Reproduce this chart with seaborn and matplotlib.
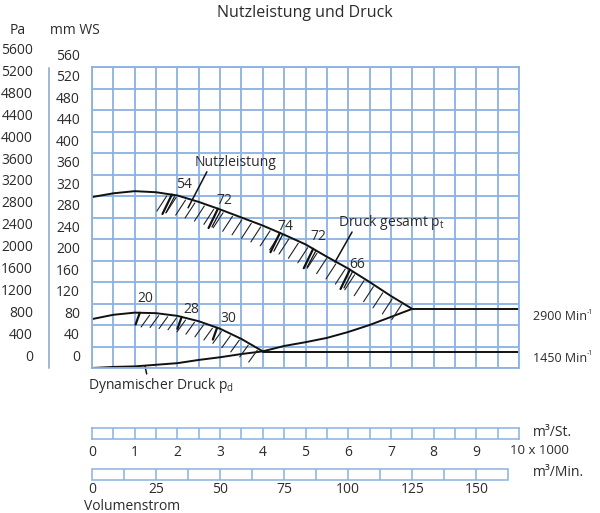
import numpy as np
import pandas as pd
import matplotlib
matplotlib.use("Agg")
import matplotlib.pyplot as plt
import seaborn as sns

# flow in 1000 m3/h, pressure in mm WS
flow_2900 = [0.0, 0.5, 1.0, 1.5, 2.0, 2.5, 3.0, 3.5, 4.0, 4.5, 5.0, 5.5, 6.0, 6.5, 7.0, 7.5]
pt_2900 = [298, 305, 309, 307, 301, 289, 275, 260, 245, 228, 210, 187, 165, 140, 114, 90]

flow_1450 = [0.0, 0.5, 1.0, 1.5, 2.0, 2.5, 3.0, 3.5, 4.0]
pt_1450 = [71, 79, 83, 82, 77, 67, 53, 34, 11]

flow_dyn = [0.0, 0.5, 1.0, 1.5, 2.0, 2.5, 3.0, 3.5, 4.0, 4.5, 5.0, 5.5, 6.0, 6.5, 7.0, 7.5]
pd_dyn = [-20, -18, -17, -14, -11, -5, 0, 6, 11, 21, 28, 36, 47, 60, 75, 90]

# speed lines (flat part right of the operating point)
speed_labels = ["2900 Min", "1450 Min"]
speed_start = [7.5, 4.0]
speed_level = [90, 10]
speed_label_y = [75, -2]

# efficiency marks: label, flow of mark, label position
eff_2900 = [54, 72, 74, 72, 66]
eff_2900_x = [1.87, 2.95, 4.4, 5.18, 6.04]
eff_2900_lx = [2.15, 3.11, 4.52, 5.29, 6.21]
eff_2900_ly = [322, 291, 244, 224, 172]

eff_1450 = [20, 28, 30]
eff_1450_x = [1.12, 2.1, 2.93]
eff_1450_lx = [1.26, 2.32, 3.19]
eff_1450_ly = [110, 88, 73]

mm_ticks = list(range(0, 561, 40))
pa_ticks = list(range(0, 5601, 400))
st_ticks = list(range(0, 10))
min_ticks = [0, 25, 50, 75, 100, 125, 150]

GRID = "#8ab2e2"
TXT = "#2b2b2b"
FONT = "Open Sans"
FS = 10

sns.set_theme(style="white")
plt.rcParams["font.family"] = [FONT, "DejaVu Sans"]
plt.rcParams["mathtext.fontset"] = "custom"
plt.rcParams["mathtext.rm"] = FONT
plt.rcParams["mathtext.it"] = FONT
plt.rcParams["text.color"] = TXT

W, H = 600, 513
fig = plt.figure(figsize=(W / 100, H / 100), dpi=100)


def box(x0, y0, x1, y1):
    # pixel box -> figure fraction
    return [x0 / W, 1 - y1 / H, (x1 - x0) / W, (y1 - y0) / H]


ax = fig.add_axes(box(92, 67, 519, 368))
ax.set_xlim(0, 10)
ax.set_ylim(-20, 540)
ax.set_xticks(np.arange(0, 10.01, 0.5))
ax.set_yticks(np.arange(-20, 541, 40))
ax.set_xticklabels([])
ax.set_yticklabels([])
ax.tick_params(length=0)
ax.grid(True, color=GRID, lw=1.3)
for s in ax.spines.values():
    s.set_color(GRID)
    s.set_linewidth(1.3)
ax.set_axisbelow(True)

curves = pd.concat([
    pd.DataFrame({"flow": flow_2900, "p": pt_2900, "c": "pt2900"}),
    pd.DataFrame({"flow": flow_1450, "p": pt_1450, "c": "pt1450"}),
    pd.DataFrame({"flow": flow_dyn, "p": pd_dyn, "c": "pd"}),
])
sns.lineplot(data=curves, x="flow", y="p", units="c", estimator=None,
             color="#111111", lw=1.4, ax=ax, legend=False)
for x0, lvl in zip(speed_start, speed_level):
    sns.lineplot(x=[x0, 10], y=[lvl, lvl], color="#111111", lw=1.4, ax=ax)
ax.set_xlabel("")
ax.set_ylabel("")


def hatch(fx, fy, start, stop, step, dx, dy):
    for x in np.arange(start, stop, step):
        y = np.interp(x, fx, fy) - 4
        ax.plot([x, x + dx], [y, y + dy], color="#222222", lw=0.8)


hatch(flow_2900, pt_2900, 1.75, 7.45, 0.22, -0.23, -28)
hatch(flow_1450, pt_1450, 1.35, 3.95, 0.21, -0.2, -22)

for v, x, lx, ly in zip(eff_2900, eff_2900_x, eff_2900_lx, eff_2900_ly):
    y = np.interp(x, flow_2900, pt_2900)
    ax.plot([x, x - 0.22], [y, y - 36], color="#111111", lw=1.6)
    ax.plot([x + 0.06, x - 0.14], [y - 4, y - 34], color="#111111", lw=0.9)
    ax.text(lx, ly, str(v), ha="center", va="center", fontsize=FS)
for v, x, lx, ly in zip(eff_1450, eff_1450_x, eff_1450_lx, eff_1450_ly):
    y = np.interp(x, flow_1450, pt_1450)
    ax.plot([x, x - 0.1], [y, y - 22], color="#111111", lw=1.6)
    ax.text(lx, ly, str(v), ha="center", va="center", fontsize=FS)

# curve labels with leaders
ax.text(3.37, 363, "Nutzleistung", ha="center", va="center", fontsize=FS)
ax.plot([2.69, 2.25], [345, 278], color="#111111", lw=1.1)
ax.text(5.76, 250, "Druck gesamt p$_{\\mathregular{t}}$", ha="left", va="center", fontsize=FS)
ax.plot([6.09, 5.69], [233, 177], color="#111111", lw=1.1)
ax.text(-0.09, -52, "Dynamischer Druck p$_{\\mathregular{d}}$", ha="left", va="center",
        fontsize=FS, clip_on=False)
ax.plot([1.24, 1.28], [-16, -31], color="#111111", lw=1.1, clip_on=False)

for lab, ly in zip(speed_labels, speed_label_y):
    t = ax.text(10.33, ly, lab, ha="left", va="center", fontsize=9, clip_on=False)
    ax.annotate("-1", xy=(1, 0.85), xycoords=t, ha="left", va="center", fontsize=5)

# left scales
for v in mm_ticks:
    ax.text(-0.28, v, str(v), ha="right", va="center", fontsize=FS, clip_on=False)
for v in pa_ticks:
    ax.text(-1.38, v / 9.81, str(v), ha="right", va="center", fontsize=FS, clip_on=False)
ax.plot([-1.0, -1.0], [-20, 538], color="#9fb8d6", lw=1.4, clip_on=False)

fig.text(18 / W, 1 - 30 / H, "Pa", ha="center", va="center", fontsize=FS)
fig.text(75 / W, 1 - 30 / H, "mm WS", ha="center", va="center", fontsize=FS)
fig.text(305 / W, 1 - 13 / H, "Nutzleistung und Druck", ha="center", va="center", fontsize=11.5)

# flow scales below
ax_st = fig.add_axes(box(92, 428, 519, 439))
ax_st.set_xlim(0, 10)
ax_st.set_ylim(0, 1)
for x in np.arange(0.5, 10, 0.5):
    ax_st.axvline(x, color=GRID, lw=1.1)
for s in ax_st.spines.values():
    s.set_color(GRID)
    s.set_linewidth(1.1)
ax_st.set_yticks([])
ax_st.set_xticks(st_ticks)
ax_st.set_xticklabels([str(t) for t in st_ticks], fontsize=FS, color=TXT)
ax_st.tick_params(axis="x", length=0, pad=4)
fig.text(510 / W, 1 - 450 / H, "10 x 1000", ha="left", va="center", fontsize=9.5)
fig.text(533 / W, 1 - 433 / H, "m³/St.", ha="left", va="center", fontsize=FS)

ax_min = fig.add_axes(box(92, 469, 519, 480))
ax_min.set_xlim(0, 10000 / 60)
ax_min.set_ylim(0, 1)
ax_min.add_patch(plt.Rectangle((0, 0), 162.5, 1, fill=False, ec=GRID, lw=1.1, clip_on=False))
for x in np.arange(12.5, 162.5, 12.5):
    ax_min.axvline(x, color=GRID, lw=1.1)
for s in ax_min.spines.values():
    s.set_visible(False)
ax_min.set_yticks([])
ax_min.set_xticks(min_ticks)
ax_min.set_xticklabels([str(t) for t in min_ticks], fontsize=FS, color=TXT)
ax_min.tick_params(axis="x", length=0, pad=1.5)
fig.text(533 / W, 1 - 473 / H, "m³/Min.", ha="left", va="center", fontsize=FS)
fig.text(84 / W, 1 - 506 / H, "Volumenstrom", ha="left", va="center", fontsize=FS)

fig.savefig("out.png", dpi=100)
